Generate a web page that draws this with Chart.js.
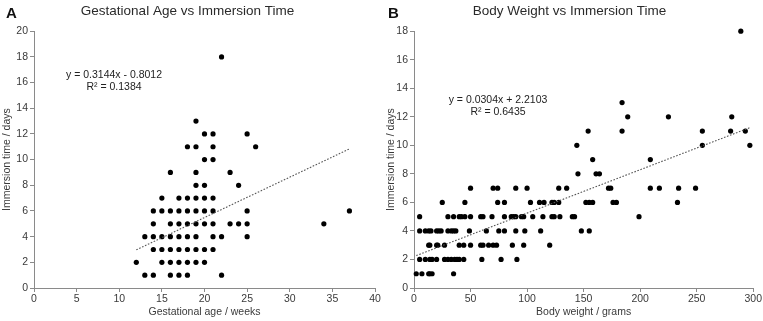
<!DOCTYPE html>
<html>
<head>
<meta charset="utf-8">
<script src="https://cdn.jsdelivr.net/npm/chart.js@4.4.1/dist/chart.umd.min.js"></script>
<style>
  html, body { margin: 0; padding: 0; background: #fff; }
  #wrap { position: relative; width: 763px; height: 321px; overflow: hidden; }
  canvas { position: absolute; top: 0; }
  .panel { position: absolute; font: bold 15px "Liberation Sans", Arial, sans-serif; color: #111; }
  .eq { position: absolute; font: 10.5px "Liberation Sans", Arial, sans-serif; color: #222;
        text-align: center; line-height: 11.5px; white-space: nowrap; transform: translateX(-50%); }
</style>
</head>
<body>
<div id="wrap">
  <canvas id="cA" width="385" height="321" style="left:0"></canvas>
  <canvas id="cB" width="378" height="321" style="left:385px"></canvas>
  <div class="panel" style="left:6px;top:4px">A</div>
  <div class="panel" style="left:388px;top:4px">B</div>
  <div class="eq" id="eqA" style="left:114px;top:69px"></div>
  <div class="eq" id="eqB" style="left:498px;top:94px"></div>
</div>
<script>
// ---- Panel A: gestational age (weeks) vs immersion time (days)
const gaWeeks = [
  13,14,16,17,18,22,
  12,15,16,17,18,19,20,
  14,15,16,17,18,19,20,21,
  13,14,15,16,17,18,19,21,22,25,
  14,16,17,18,19,20,21,23,24,25,34,
  14,15,16,17,18,19,20,21,25,37,
  15,17,18,19,20,21,
  19,20,24,
  16,19,23,
  20,21,
  18,19,21,26,
  20,21,25,
  19,
  22
];
const gaDays = [
  1,1,1,1,1,1,
  2,2,2,2,2,2,2,
  3,3,3,3,3,3,3,3,
  4,4,4,4,4,4,4,4,4,4,
  5,5,5,5,5,5,5,5,5,5,5,
  6,6,6,6,6,6,6,6,6,6,
  7,7,7,7,7,7,
  8,8,8,
  9,9,9,
  10,10,
  11,11,11,11,
  12,12,12,
  13,
  18
];
// ---- Panel B: body weight (grams) vs immersion time (days)
const bwGrams = [
  2,7,13,14,16,35,
  5,10,14,16,20,27,30,33,36,38,40,44,60,77,91,
  13,14,20,21,27,40,44,50,59,61,66,70,73,87,97,120,
  5,10,13,15,20,22,24,30,33,35,37,49,64,75,80,90,98,112,148,155,
  5,30,35,40,42,45,50,59,61,69,80,86,88,90,95,97,105,114,122,124,129,140,142,199,
  25,45,74,80,103,111,115,122,124,128,152,155,158,176,179,233,
  50,70,74,90,100,128,135,172,174,209,217,234,249,
  145,161,164,
  158,209,
  144,255,297,
  154,184,255,280,293,
  189,225,281,
  184,
  289
];
const bwDays = [
  1,1,1,1,1,1,
  2,2,2,2,2,2,2,2,2,2,2,2,2,2,2,
  3,3,3,3,3,3,3,3,3,3,3,3,3,3,3,3,
  4,4,4,4,4,4,4,4,4,4,4,4,4,4,4,4,4,4,4,4,
  5,5,5,5,5,5,5,5,5,5,5,5,5,5,5,5,5,5,5,5,5,5,5,5,
  6,6,6,6,6,6,6,6,6,6,6,6,6,6,6,6,
  7,7,7,7,7,7,7,7,7,7,7,7,7,
  8,8,8,
  9,9,
  10,10,10,
  11,11,11,11,11,
  12,12,12,
  13,
  18
];
// linear trend coefficients [slope, intercept] and R²
const trendA = [0.3144, -0.8012];
const trendB = [0.0304, 2.2103];
const r2Values = [0.1384, 0.6435];
const titles = ['Gestational Age vs Immersion Time', 'Body Weight vs Immersion Time'];
const xTitles = ['Gestational age / weeks', 'Body weight / grams'];
const yTitle = 'Immersion time / days';
const xTickStepA = 5, xMaxA = 40, yMaxA = 20;
const xTickStepB = 50, xMaxB = 300, yMaxB = 18;

const SMALL = '"Liberation Sans", Arial, sans-serif';
const REG = '"Liberation Sans", Arial, sans-serif';
const AXIS = '#8a8a8a';
const LABEL = '#3a3a3a';

function fmt(v) { return (v < 0 ? '- ' : '+ ') + Math.abs(v).toFixed(4); }
document.getElementById('eqA').innerHTML = 'y = ' + trendA[0].toFixed(4) + 'x ' + fmt(trendA[1]) + '<br>R² = ' + r2Values[0].toFixed(4);
document.getElementById('eqB').innerHTML = 'y = ' + trendB[0].toFixed(4) + 'x ' + fmt(trendB[1]) + '<br>R² = ' + r2Values[1].toFixed(4);

function pts(xs, ys) { return xs.map((x, i) => ({ x, y: ys[i] })); }
function trendPts(xs, c) {
  const lo = Math.min(...xs), hi = Math.max(...xs);
  return [{ x: lo, y: c[0] * lo + c[1] }, { x: hi, y: c[0] * hi + c[1] }];
}

function makeChart(id, xs, ys, coef, title, xTitle, xStep, xMax, yMax, yAxisW, padRight, yTitlePad) {
  return new Chart(document.getElementById(id), {
    type: 'scatter',
    data: {
      datasets: [
        { data: pts(xs, ys), backgroundColor: '#000', borderColor: '#000', pointRadius: 2.6, pointBorderWidth: 0,
          clip: false, order: 2 },
        { type: 'line', data: trendPts(xs, coef), borderColor: '#555', borderWidth: 1.1, borderDash: [1.6, 1.6],
          pointRadius: 0, fill: false, order: 1 }
      ]
    },
    options: {
      responsive: false,
      animation: false,
      layout: { padding: { left: 0, right: padRight, top: 0, bottom: 0 } },
      plugins: {
        legend: { display: false },
        tooltip: { enabled: false },
        title: { display: true, text: title, color: '#2a2a2a', font: { family: REG, size: 13.5, weight: 'normal' },
                 padding: { top: 3, bottom: 12 } }
      },
      scales: {
        x: {
          type: 'linear', min: 0, max: xMax,
          ticks: { stepSize: xStep, color: LABEL, font: { family: SMALL, size: 10.5 }, padding: 1, maxRotation: 0 },
          grid: { drawOnChartArea: false, drawTicks: true, tickLength: 4, color: AXIS },
          border: { display: true, color: AXIS, width: 1 },
          title: { display: true, text: xTitle, color: LABEL, font: { family: SMALL, size: 10.5 }, padding: { top: 0, bottom: 3 } },
          afterFit: s => { s.height = 33; }
        },
        y: {
          type: 'linear', min: 0, max: yMax,
          ticks: { stepSize: 2, color: LABEL, font: { family: SMALL, size: 10.5 }, padding: 2 },
          grid: { drawOnChartArea: false, drawTicks: true, tickLength: 4, color: AXIS },
          border: { display: true, color: AXIS, width: 1 },
          title: { display: true, text: yTitle, color: LABEL, font: { family: SMALL, size: 10.5 }, padding: { top: yTitlePad, bottom: 0 } },
          afterFit: s => { s.width = yAxisW; }
        }
      }
    }
  });
}

makeChart('cA', gaWeeks, gaDays, trendA, titles[0], xTitles[0], xTickStepA, xMaxA, yMaxA, 34, 10, 1);
makeChart('cB', bwGrams, bwDays, trendB, titles[1], xTitles[1], xTickStepB, xMaxB, yMaxB, 29, 9, 0);
</script>
</body>
</html>
